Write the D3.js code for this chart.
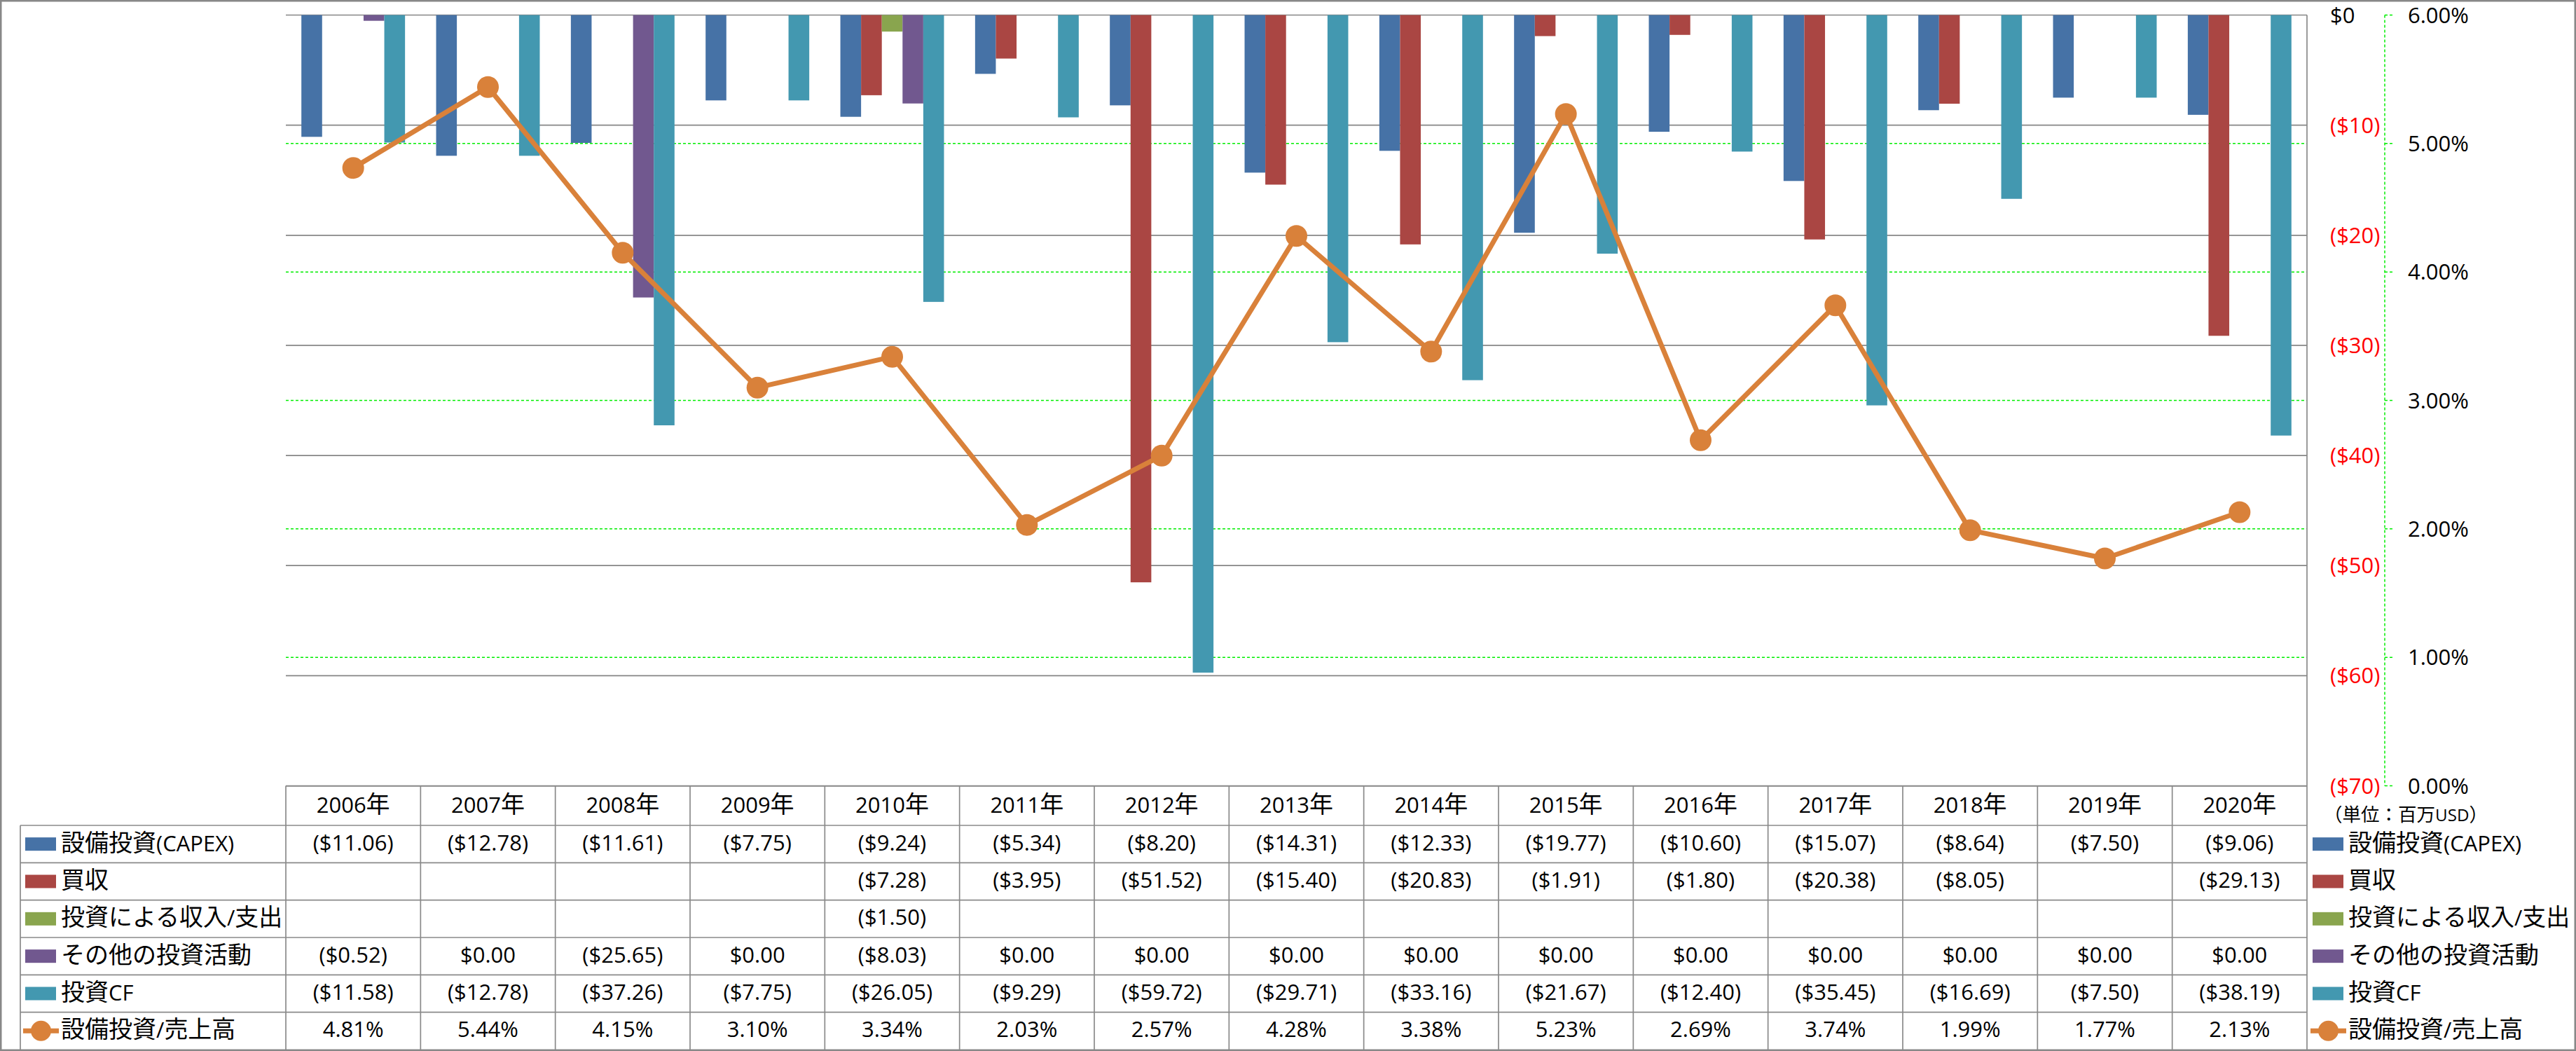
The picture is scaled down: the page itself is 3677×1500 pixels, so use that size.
<!DOCTYPE html>
<html><head><meta charset="utf-8">
<script src="https://cdn.jsdelivr.net/npm/d3@7"></script>
<style>
html,body{margin:0;padding:0;background:#fff;}
svg{display:block;}
text{font-family:"Open Sans","Noto Sans CJK JP",sans-serif;}
</style></head>
<body>
<svg id="chart" width="3677" height="1500"></svg>
<script>
// ---- DATA ----
const categories = ["2006年","2007年","2008年","2009年","2010年","2011年","2012年","2013年","2014年","2015年","2016年","2017年","2018年","2019年","2020年"];
const capex      = [-11.06,-12.78,-11.61,-7.75,-9.24,-5.34,-8.20,-14.31,-12.33,-19.77,-10.60,-15.07,-8.64,-7.50,-9.06];
const acquisition= [null,null,null,null,-7.28,-3.95,-51.52,-15.40,-20.83,-1.91,-1.80,-20.38,-8.05,null,-29.13];
const investIO   = [null,null,null,null,-1.50,null,null,null,null,null,null,null,null,null,null];
const otherInv   = [-0.52,0.00,-25.65,0.00,-8.03,0.00,0.00,0.00,0.00,0.00,0.00,0.00,0.00,0.00,0.00];
const investCF   = [-11.58,-12.78,-37.26,-7.75,-26.05,-9.29,-59.72,-29.71,-33.16,-21.67,-12.40,-35.45,-16.69,-7.50,-38.19];
const capexRatio = [4.81,5.44,4.15,3.10,3.34,2.03,2.57,4.28,3.38,5.23,2.69,3.74,1.99,1.77,2.13];
const seriesNames = ["設備投資(CAPEX)","買収","投資による収入/支出","その他の投資活動","投資CF"];
const lineName = "設備投資/売上高";
const usdTicks = [0,-10,-20,-30,-40,-50,-60,-70];
const pctTicks = [6,5,4,3,2,1,0];
const unitLabel = "（単位：百万USD）";

// ---- STYLE / LAYOUT ----
const colors = ["#4672A6","#AA4643","#89A54E","#71588F","#4398B0"];
const lineColor = "#D9813A";
const gridGray = "#868686";
const tableGray = "#8a8a8a";
const W = 3677, H = 1500;
const plotL = 408, plotR = 3293, plotT = 21.5, plotB = 1121.5;
const tableBottom = 1498, headerBottom = 1178, legendL = 29;
const latinSize = 31, cjkSize = 34;
const baseOff = 11; // alphabetic baseline offset from visual center

const svg = d3.select("#chart");
svg.append("rect").attr("width",W).attr("height",H).attr("fill","#fff");

// mixed-script text: CJK runs slightly larger (like Meiryo)
const cjkRe = /([\u3000-\u30ff\u3400-\u9fff\uff00-\uffef]+)/;
function rich(textSel, str, scale){
  scale = scale || 1;
  str.split(cjkRe).filter(s=>s.length).forEach(part=>{
    const isCJK = cjkRe.test(part);
    textSel.append("tspan")
      .attr("font-family", isCJK ? "'Noto Sans CJK JP'" : "'Open Sans','Noto Sans CJK JP'")
      .attr("font-size", (isCJK ? cjkSize : latinSize)*scale)
      .text(part);
  });
}

const x = d3.scaleBand().domain(categories).range([plotL, plotR]).paddingInner(0).paddingOuter(0);
const bw = x.bandwidth();
const yL = d3.scaleLinear().domain([-70,0]).range([plotB, plotT]);
const yR = d3.scaleLinear().domain([0,6]).range([plotB, plotT]);
const barW = bw/6.5;
const xs = d3.scaleBand().domain(d3.range(5)).range([bw*0.75/6.5, bw*0.75/6.5 + barW*5]).padding(0);

// green dashed percent gridlines
svg.append("g").selectAll("line").data(pctTicks.filter(d=>d>0 && d<6)).join("line")
  .attr("x1",plotL).attr("x2",plotR).attr("y1",d=>yR(d)).attr("y2",d=>yR(d))
  .attr("stroke","#00ee00").attr("stroke-width",1.5).attr("stroke-dasharray","4,3");
// gray gridlines
svg.append("g").selectAll("line").data(usdTicks).join("line")
  .attr("x1",plotL).attr("x2",plotR).attr("y1",d=>yL(d)).attr("y2",d=>yL(d))
  .attr("stroke",gridGray).attr("stroke-width",1.7);

// bars
const allSeries = [capex, acquisition, investIO, otherInv, investCF];
allSeries.forEach((arr, si) => {
  svg.append("g").selectAll("rect")
    .data(arr.map((v,i)=>({v, c:categories[i]})).filter(d=>d.v!==null && d.v!==0))
    .join("rect")
    .attr("x", d=>x(d.c)+xs(si))
    .attr("width", xs.bandwidth())
    .attr("y", d=>yL(Math.max(0,d.v)))
    .attr("height", d=>Math.abs(yL(d.v)-yL(0)))
    .attr("fill", colors[si]);
});

// line
const lineGen = d3.line().x((d,i)=>x(categories[i])+bw/2).y(d=>yR(d));
svg.append("path").datum(capexRatio).attr("d",lineGen)
  .attr("fill","none").attr("stroke",lineColor).attr("stroke-width",7).attr("stroke-linejoin","round");
svg.append("g").selectAll("circle").data(capexRatio).join("circle")
  .attr("cx",(d,i)=>x(categories[i])+bw/2).attr("cy",d=>yR(d)).attr("r",15.5)
  .attr("fill",lineColor);

// secondary axis (green dashed)
const axX = 3404;
svg.append("line").attr("x1",axX).attr("x2",axX).attr("y1",plotT).attr("y2",plotB)
  .attr("stroke","#00ee00").attr("stroke-width",1.5).attr("stroke-dasharray","4,3");
svg.append("g").selectAll("line").data(pctTicks).join("line")
  .attr("x1",axX).attr("x2",axX+11).attr("y1",d=>yR(d)).attr("y2",d=>yR(d))
  .attr("stroke","#00ee00").attr("stroke-width",1.5).attr("stroke-dasharray","4,3");

// USD labels
const fmtUSD = v => v<0 ? "($"+Math.abs(v)+")" : "$"+v;
svg.append("g").selectAll("text").data(usdTicks).join("text")
  .attr("x",3326).attr("y",d=>yL(d)+baseOff)
  .attr("font-size",latinSize).attr("fill",d=>d<0?"#ff0000":"#000").text(fmtUSD);
// pct labels
svg.append("g").selectAll("text").data(pctTicks).join("text")
  .attr("x",3437).attr("y",d=>yR(d)+baseOff)
  .attr("font-size",latinSize).attr("fill","#000").text(d=>d.toFixed(2)+"%");

rich(svg.append("text").attr("x",3317).attr("y",1162+10).attr("fill","#000"), unitLabel, 0.78);

// ---- TABLE ----
const nRows = 6;
const rowH = (tableBottom - headerBottom)/nRows;
const tg = svg.append("g");
tg.append("line").attr("x1",plotL).attr("x2",plotR).attr("y1",plotB+0.5).attr("y2",plotB+0.5)
  .attr("stroke",tableGray).attr("stroke-width",1.7);
d3.range(nRows).forEach(r=>{
  const yy = headerBottom + r*rowH;
  tg.append("line").attr("x1",legendL).attr("x2",plotR).attr("y1",yy).attr("y2",yy)
    .attr("stroke",tableGray).attr("stroke-width",1.7);
});
tg.append("line").attr("x1",legendL).attr("x2",legendL).attr("y1",headerBottom).attr("y2",tableBottom)
  .attr("stroke",tableGray).attr("stroke-width",1.7);
categories.forEach(c=>{
  tg.append("line").attr("x1",x(c)).attr("x2",x(c)).attr("y1",plotB).attr("y2",tableBottom)
    .attr("stroke",tableGray).attr("stroke-width",1.7);
});
tg.append("line").attr("x1",plotR).attr("x2",plotR).attr("y1",plotT).attr("y2",tableBottom)
  .attr("stroke",tableGray).attr("stroke-width",1.7);

// header text
categories.forEach(c=>{
  const t = tg.append("text").attr("x",x(c)+bw/2).attr("y",(plotB+headerBottom)/2-1+baseOff)
    .attr("text-anchor","middle").attr("fill","#000");
  rich(t, c);
});

const fmtCell = v => v===null ? "" : (v<0 ? "($"+Math.abs(v).toFixed(2)+")" : "$"+v.toFixed(2));
const rows = allSeries.map(a=>a.map(fmtCell));
rows.push(capexRatio.map(v=>v.toFixed(2)+"%"));
rows.forEach((row, r)=>{
  const cy = headerBottom + r*rowH + rowH/2;
  tg.append("g").selectAll("text").data(row).join("text")
    .attr("x",(d,i)=>x(categories[i])+bw/2).attr("y",cy-2+baseOff).attr("text-anchor","middle")
    .attr("font-size",latinSize).attr("fill","#000").text(d=>d);
});

// legend keys (left column and right side)
function legendKey(g, sx, cy, idx){
  if(idx<5){
    g.append("rect").attr("x",sx).attr("y",cy-9.5).attr("width",44).attr("height",19).attr("fill",colors[idx]);
  } else {
    g.append("line").attr("x1",sx-3).attr("x2",sx+48).attr("y1",cy).attr("y2",cy)
      .attr("stroke",lineColor).attr("stroke-width",7);
    g.append("circle").attr("cx",sx+22.5).attr("cy",cy).attr("r",14.5).attr("fill",lineColor);
  }
}
const names = seriesNames.concat([lineName]);
names.forEach((n, r)=>{
  const cy = headerBottom + r*rowH + rowH/2;
  legendKey(tg, 36, cy, r);
  rich(tg.append("text").attr("x",87).attr("y",cy-1+baseOff).attr("fill","#000"), n);
  legendKey(tg, 3301, cy, r);
  rich(tg.append("text").attr("x",3352).attr("y",cy-1+baseOff).attr("fill","#000"), n);
});

// outer border
svg.append("rect").attr("x",1.25).attr("y",1.25).attr("width",W-2.5).attr("height",H-2.5)
  .attr("fill","none").attr("stroke","#888").attr("stroke-width",2.5);
</script>
</body></html>
